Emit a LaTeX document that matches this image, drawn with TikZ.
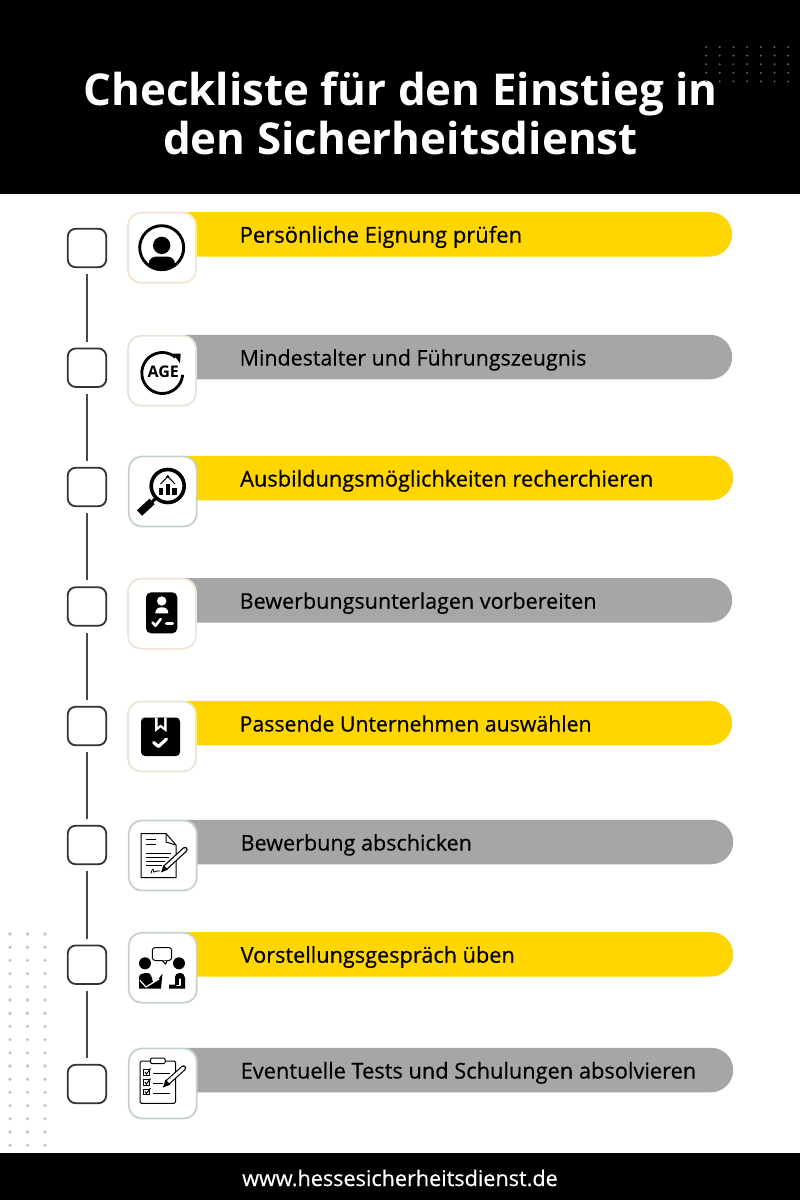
\documentclass[tikz,border=0pt]{standalone}
\usepackage{fontspec}
\setmainfont{Open Sans}
\newfontfamily\mediumfont[FakeBold=0.5]{Open Sans}
\usetikzlibrary{shapes.misc}
\definecolor{baryellow}{HTML}{FFD600}
\definecolor{bargrey}{HTML}{A6A6A6}
\definecolor{dotgrey}{HTML}{C2C7C5}
\definecolor{dotdark}{HTML}{666666}
\definecolor{boxline}{HTML}{333333}
\definecolor{cardpeach}{HTML}{F2E4D6}
\definecolor{cardcream}{HTML}{E6E6D6}
\definecolor{cardsage}{HTML}{C5D2CB}
\tikzset{
  checkbox/.style={draw=boxline,line width=1.8pt,rounded corners=8pt,minimum size=38.5pt,inner sep=0pt,outer sep=0.9pt},
  linkline/.style={draw=boxline!90,line width=1.5pt,shorten <=6pt,shorten >=6pt},
  barbox/.style={rounded rectangle,rounded rectangle west arc=none,minimum width=547pt,minimum height=44.5pt,inner sep=0pt,anchor=west},
  iconcard/.style={draw,fill=white,line width=1.8pt,rounded corners=13pt,minimum width=68pt,minimum height=70pt,inner sep=0pt},
  barlabel/.style={anchor=base west,inner sep=0pt,font=\mediumfont\fontsize{#1}{24}\selectfont,text=black},
  whiteline/.style={draw=white,line cap=round,line join=round},
  thinline/.style={draw=black,line width=1pt}
}
\begin{document}
\begin{tikzpicture}[x=1pt,y=-1pt]
\useasboundingbox (0,0) rectangle (800,1200);
\fill [white] (0,0) rectangle (800,1200);
% header and footer
\fill [black] (0,0) rectangle (800,194);
\fill [black] (0,1153) rectangle (800,1200);
\node [text=white,align=center,inner sep=0pt,font=\fontsize{43.9}{49.5}\bfseries\selectfont] (title) at (400.5,113.5) {Checkliste für den Einstieg in\\den Sicherheitsdienst};
\node [text=white,inner sep=0pt,anchor=base,font=\mediumfont\fontsize{21.6}{24}\selectfont] (website) at (400,1186) {www.hessesicherheitsdienst.de};
% dots
\foreach \i in {0,...,6} \foreach \j in {0,...,4} \fill [dotdark] (706+13.7*\i,47+8.6*\j) circle (1.1);
\foreach \i in {10,27.5,45} \foreach \j in {0,...,16} \fill [dotgrey] (\i,934+13.2*\j) circle (1.8);
% bars
\node [barbox,fill=baryellow] (bar1) at (185,234.3) {};
\node [barbox,fill=bargrey] (bar2) at (185,357) {};
\node [barbox,fill=baryellow] (bar3) at (186,478) {};
\node [barbox,fill=bargrey] (bar4) at (185,600.3) {};
\node [barbox,fill=baryellow] (bar5) at (185,723) {};
\node [barbox,fill=bargrey] (bar6) at (186,842) {};
\node [barbox,fill=baryellow] (bar7) at (186,954.3) {};
\node [barbox,fill=bargrey] (bar8) at (186,1070) {};
% cards
\node [iconcard,draw=cardpeach] (card1) at (162,247.7) {};
\node [iconcard,draw=cardcream] (card2) at (162,370.7) {};
\node [iconcard,draw=cardsage] (card3) at (162.8,491.5) {};
\node [iconcard,draw=cardpeach] (card4) at (162,613.7) {};
\node [iconcard,draw=cardcream] (card5) at (162,736.5) {};
\node [iconcard,draw=cardsage] (card6) at (162.8,855.5) {};
\node [iconcard,draw=cardsage] (card7) at (162.8,967.7) {};
\node [iconcard,draw=cardsage] (card8) at (162.8,1083.5) {};
% check boxes
\node [checkbox] (box1) at (87,248) {};
\node [checkbox] (box2) at (87,367.7) {};
\node [checkbox] (box3) at (87,487) {};
\node [checkbox] (box4) at (87,606.5) {};
\node [checkbox] (box5) at (87,726) {};
\node [checkbox] (box6) at (87,845) {};
\node [checkbox] (box7) at (87,964.7) {};
\node [checkbox] (box8) at (87,1084) {};
\draw [linkline] (box1) -- (box2);
\draw [linkline] (box2) -- (box3);
\draw [linkline] (box3) -- (box4);
\draw [linkline] (box4) -- (box5);
\draw [linkline] (box5) -- (box6);
\draw [linkline] (box6) -- (box7);
\draw [linkline] (box7) -- (box8);
% labels
\node [barlabel=22] (label1) at (239.5,242.7) {Persönliche Eignung prüfen};
\node [barlabel=21.4] (label2) at (239.5,365.5) {Mindestalter und Führungszeugnis};
\node [barlabel=21.8] (label3) at (240,486.5) {Ausbildungsmöglichkeiten recherchieren};
\node [barlabel=21.55] (label4) at (239.5,608.7) {Bewerbungsunterlagen vorbereiten};
\node [barlabel=21.25] (label5) at (239.5,731.5) {Passende Unternehmen auswählen};
\node [barlabel=21.55] (label6) at (240.5,850.5) {Bewerbung abschicken};
\node [barlabel=21.7] (label7) at (240.5,962.7) {Vorstellungsgespräch üben};
\node [barlabel=21.8] (label8) at (240.5,1078.5) {Eventuelle Tests und Schulungen absolvieren};
% icon 1, person
\draw [line width=2.9pt] (161.7,247.7) circle (22);
\fill (161.7,245.4) circle (8.7);
\begin{scope}
\clip (161.7,247.7) circle (22);
\fill (148.7,272) -- (148.7,264) .. controls (148.7,258.5) and (153,256.5) .. (157,256.5) -- (166.5,256.5) .. controls (170.5,256.5) and (175,258.5) .. (175,264) -- (175,272) -- cycle;
\end{scope}
% icon 2, age
\draw [line width=2.8pt] (162.3,373) ++(5:20.5) arc [start angle=5,end angle=310,radius=20.5];
\fill (173,353.5) -- (180.7,353.5) -- (180,363.3) -- cycle;
\node [inner sep=0pt,font=\fontsize{16}{18}\bfseries\selectfont] (agetext) at (163.3,371.7) {AGE};
% icon 3, magnifier
\draw [line width=3.6pt] (167.7,486) circle (16.5);
\fill (158.7,487.5) rectangle (163,495);
\fill (165.5,483.5) rectangle (170,495);
\fill (172.3,487.5) rectangle (176.7,495);
\draw [line width=1pt] (160.5,484) -- (167.7,476.5) -- (175,484);
\fill (167.7,476.5) circle (1.6);
\draw [line width=3pt] (156,498) -- (150,504);
\draw [line width=7.5pt] (152,501.5) -- (139.5,513);
% icon 4, badge
\fill [rounded corners=5pt] (146,592.3) rectangle (177.3,633.3);
\fill [white] (161.7,601) circle (4.7);
\fill [white] (155.3,613.3) .. controls (155.3,609) and (158,607.3) .. (161.8,607.3) .. controls (165.6,607.3) and (168.3,609) .. (168.3,613.3) -- cycle;
\draw [whiteline,line width=2.6pt] (152.5,622.5) -- (155.5,625.7) -- (160.7,619);
\draw [whiteline,line width=2.9pt] (166.3,623.7) -- (172.7,623.7);
% icon 5, bookmark
\fill [rounded corners=4pt] (141,717.5) rectangle (180,756);
\fill [white] (155,717.5) -- (155,732) -- (160.5,727.5) -- (166.7,732) -- (166.7,717.5) -- cycle;
\fill (157.5,717.5) -- (157.5,727) -- (160.5,724.5) -- (164.2,727) -- (164.2,717.5) -- cycle;
\draw [whiteline,line width=3.2pt] (153.7,742.5) -- (158.5,746.5) -- (166.5,739);
% icon 6, document and pen
\draw [thinline,line join=round] (141,833.5) -- (166,833.5) -- (176,845) -- (176,877.5) -- (141,877.5) -- cycle;
\draw [thinline] (166,833.5) -- (166,842) -- (176,845);
\draw [thinline] (146,839.5) -- (156,839.5);
\draw [thinline] (146,844.7) -- (156,844.7);
\draw [thinline] (146,853.3) -- (171,853.3);
\draw [thinline] (146,857.5) -- (169,857.5);
\draw [thinline] (146,861.7) -- (165,861.7);
\draw [thinline] (146,865.7) -- (162,865.7);
\draw [line width=5.5pt,line cap=round] (185,849.5) -- (166,867);
\draw [line width=3pt,white,line cap=round] (185,849.5) -- (166,867);
\fill (163.5,865) -- (168,869.5) -- (161,872.5) -- cycle;
\draw [line width=0.8pt] (151,873.5) .. controls (152,868) and (154,868) .. (153.5,872) .. controls (155,870) and (157,872) .. (160,871);
% icon 7, dialogue
\draw [thinline,fill=white,rounded corners=3pt] (152.3,947.5) rectangle (171.7,960.5);
\draw [thinline,fill=white] (162,960.5) -- (165.7,964) -- (167,960.5);
\fill (145,963.3) circle (6);
\fill (179,963.3) circle (6);
\fill (139,988.7) -- (139,978) .. controls (139,974.5) and (142,973) .. (145,973) -- (148,973) .. controls (150.5,973) and (152,977) .. (153,982.5) -- (158,979.5) -- (162.5,973.5) -- (161,988.7) -- cycle;
\draw [whiteline,line width=1.2pt] (140,980.5) -- (146,987) -- (159,979);
\fill (169,988.7) -- (169,984.5) -- (175,984.5) -- (175,977) .. controls (175,974.5) and (177,973) .. (179.5,973) .. controls (183,973) and (185,975) .. (185,978) -- (185,988.7) -- cycle;
\draw [whiteline,line width=1.1pt] (177,985.5) -- (180,985.5) -- (180,979);
% icon 8, clipboard and pen
\draw [thinline,rounded corners=1.5pt] (140,1061) rectangle (175.7,1103.3);
\draw [thinline,fill=white,rounded corners=1pt] (150.7,1058) rectangle (165,1063.5);
\draw [line width=0.8pt] (143.5,1069.5) rectangle (149.5,1075);
\draw [line width=0.8pt] (143.5,1079.5) rectangle (149.5,1085);
\draw [line width=0.8pt] (143.5,1089) rectangle (149.5,1094.5);
\draw [line width=1pt] (145,1072) -- (146.5,1074) -- (150.5,1068.5);
\draw [line width=1pt] (145,1082) -- (146.5,1084) -- (150.5,1078.5);
\draw [line width=1pt] (145,1091.5) -- (146.5,1093.5) -- (150.5,1088);
\draw [thinline] (153.3,1073.7) -- (170,1073.7);
\draw [thinline] (153.3,1083.7) -- (163,1083.7);
\draw [thinline] (153.3,1093.3) -- (170,1093.3);
\draw [line width=5.5pt,line cap=round] (183.5,1068) -- (168,1082);
\draw [line width=3.2pt,white,line cap=round] (183.5,1068) -- (168,1082);
\fill (165.5,1079.5) -- (170.5,1084.5) -- (163,1087.5) -- cycle;
\end{tikzpicture}
\end{document}
